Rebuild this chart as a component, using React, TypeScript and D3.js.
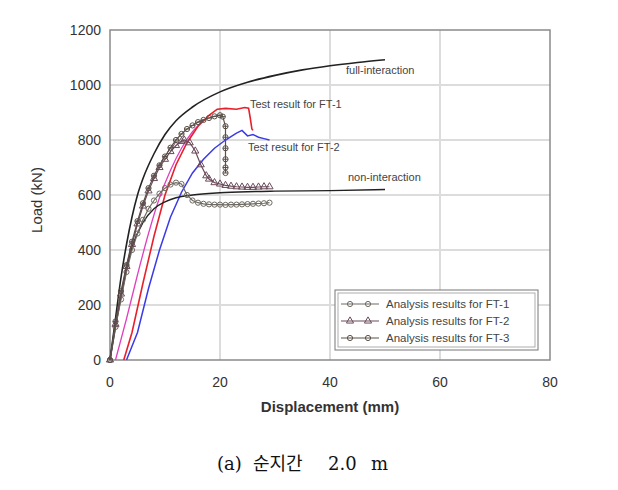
import React, { useEffect, useRef } from 'react';
import * as d3 from 'd3';

// displacement (mm) / load (kN) pairs
const fullDisp = [0, 1, 2, 3, 4, 5, 6, 8, 10, 12, 15, 20, 25, 30, 35, 40, 45, 50];
const fullLoad = [0, 150, 300, 420, 520, 600, 660, 750, 820, 870, 920, 975, 1010, 1035, 1055, 1070, 1082, 1092];

const nonDisp = [0, 2, 4, 6, 8, 10, 12, 15, 20, 25, 30, 40, 50];
const nonLoad = [0, 230, 410, 500, 550, 575, 590, 600, 608, 612, 614, 616, 620];

const ft1TestDisp = [2.5, 4, 6, 8, 10, 12, 14, 16, 18, 19.5, 21, 23, 24.5, 25.2, 25.5, 25.8, 26];
const ft1TestLoad = [0, 100, 280, 450, 600, 710, 790, 850, 890, 912, 915, 912, 918, 916, 880, 840, 835];

const ft2TestDisp = [3, 5, 7, 9, 11, 13, 15, 17, 19, 21, 23, 24, 25, 26, 27, 28, 29];
const ft2TestLoad = [0, 100, 260, 400, 520, 610, 680, 730, 770, 800, 825, 835, 815, 820, 810, 805, 800];

const ft3TestDisp = [1, 3, 5, 7, 9, 11, 13, 15, 17];
const ft3TestLoad = [0, 150, 310, 460, 590, 690, 770, 830, 870];

const an1Disp = [0, 1, 2, 3, 4, 5, 6, 7, 8, 9, 10, 11, 12, 13, 14, 15, 16, 17, 18, 19, 20, 21, 22, 23, 24, 25, 26, 27, 28, 29];
const an1Load = [0, 120, 220, 320, 400, 460, 510, 550, 580, 605, 625, 638, 645, 640, 600, 580, 572, 568, 566, 565, 565, 564, 565, 565, 566, 567, 568, 569, 570, 572];

const an2Disp = [0, 1, 2, 3, 4, 5, 6, 7, 8, 9, 10, 11, 12, 13, 13.5, 14.5, 15.5, 16.5, 17.5, 18, 19, 20, 21, 22, 23, 24, 25, 26, 27, 28, 29];
const an2Load = [0, 130, 240, 340, 420, 495, 560, 615, 660, 700, 730, 758, 780, 795, 800, 790, 760, 710, 670, 658, 645, 640, 635, 632, 630, 629, 628, 628, 629, 630, 630];

const an3Disp = [0, 1, 2, 3, 4, 5, 6, 7, 8, 9, 10, 11, 12, 13, 14, 15, 16, 17, 18, 19, 20, 20.5, 21, 21, 21, 21, 21, 21];
const an3Load = [0, 140, 250, 345, 430, 505, 570, 625, 670, 708, 740, 772, 800, 822, 840, 853, 865, 873, 880, 886, 890, 885, 850, 810, 770, 730, 700, 680];

const xTicks = [0, 20, 40, 60, 80];
const yTicks = [0, 200, 400, 600, 800, 1000, 1200];
const legendLabels = ['Analysis results for FT-1', 'Analysis results for FT-2', 'Analysis results for FT-3'];
const captionWords = ['(a)', '순지간', '2.0', 'm'];

function App() {
  const svgRef = useRef(null);

  useEffect(() => {
    const svg = d3.select(svgRef.current);
    svg.selectAll('*').remove();

    const x = d3.scaleLinear().domain([0, 80]).range([110, 550]);
    const y = d3.scaleLinear().domain([0, 1200]).range([360, 30]);

    // grid
    svg.append('g').selectAll('line.v').data(xTicks.slice(1, -1)).enter().append('line')
      .attr('x1', d => x(d)).attr('x2', d => x(d)).attr('y1', y(0)).attr('y2', y(1200))
      .attr('stroke', '#dcdcdc').attr('stroke-width', 2);
    svg.append('g').selectAll('line.h').data(yTicks.slice(1, -1)).enter().append('line')
      .attr('x1', x(0)).attr('x2', x(80)).attr('y1', d => y(d)).attr('y2', d => y(d))
      .attr('stroke', '#dcdcdc').attr('stroke-width', 2);

    svg.append('rect').attr('x', x(0)).attr('y', y(1200))
      .attr('width', x(80) - x(0)).attr('height', y(0) - y(1200))
      .attr('fill', 'none').attr('stroke', '#8a8a8a').attr('stroke-width', 1.5);

    // tick labels
    svg.append('g').selectAll('text').data(xTicks).enter().append('text')
      .attr('x', d => x(d)).attr('y', 387).attr('text-anchor', 'middle')
      .attr('font-family', 'Liberation Sans, Arial, sans-serif').attr('font-size', 14).attr('fill', '#333')
      .text(d => d);
    svg.append('g').selectAll('text').data(yTicks).enter().append('text')
      .attr('x', 101).attr('y', d => y(d) + 5).attr('text-anchor', 'end')
      .attr('font-family', 'Liberation Sans, Arial, sans-serif').attr('font-size', 14).attr('fill', '#333')
      .text(d => d);

    svg.append('text').attr('transform', 'translate(42,200) rotate(-90)')
      .attr('text-anchor', 'middle').attr('font-family', 'Liberation Sans, Arial, sans-serif')
      .attr('font-size', 15).attr('fill', '#333').text('Load (kN)');
    svg.append('text').attr('x', 330).attr('y', 412).attr('text-anchor', 'middle')
      .attr('font-family', 'Liberation Sans, Arial, sans-serif').attr('font-size', 15)
      .attr('font-weight', 'bold').attr('fill', '#333').text('Displacement (mm)');

    const line = d3.line<[number, number]>().x(d => x(d[0])).y(d => y(d[1])).curve(d3.curveMonotoneX);
    const linear = d3.line<[number, number]>().x(d => x(d[0])).y(d => y(d[1]));
    const zipped = (a: number[], b: number[]) => a.map((v, i) => [v, b[i]] as [number, number]);

    const g = svg.append('g');
    g.append('path').attr('d', line(zipped(ft3TestDisp, ft3TestLoad))).attr('fill', 'none')
      .attr('stroke', '#e040c0').attr('stroke-width', 1.3);
    g.append('path').attr('d', linear(zipped(ft2TestDisp, ft2TestLoad))).attr('fill', 'none')
      .attr('stroke', '#3a3ae8').attr('stroke-width', 1.5);
    g.append('path').attr('d', linear(zipped(ft1TestDisp, ft1TestLoad))).attr('fill', 'none')
      .attr('stroke', '#e8202a').attr('stroke-width', 1.6);
    g.append('path').attr('d', line(zipped(fullDisp, fullLoad))).attr('fill', 'none')
      .attr('stroke', '#222').attr('stroke-width', 1.6);
    g.append('path').attr('d', line(zipped(nonDisp, nonLoad))).attr('fill', 'none')
      .attr('stroke', '#222').attr('stroke-width', 1.4);

    // analysis curves with markers
    const drawAnalysis = (dx: number[], dy: number[], kind: number, color: string) => {
      const pts = zipped(dx, dy);
      g.append('path').attr('d', linear(pts)).attr('fill', 'none')
        .attr('stroke', color).attr('stroke-width', 1.2);
      const m = g.append('g').selectAll('g').data(pts).enter().append('g')
        .attr('transform', d => `translate(${x(d[0])},${y(d[1])})`);
      if (kind === 0) {
        m.append('circle').attr('r', 2.6).attr('fill', 'none').attr('stroke', color).attr('stroke-width', 1);
      } else if (kind === 1) {
        m.append('path').attr('d', d3.symbol(d3.symbolTriangle, 22)()).attr('fill', 'none')
          .attr('stroke', color).attr('stroke-width', 1);
      } else {
        m.append('circle').attr('r', 2.6).attr('fill', 'none').attr('stroke', color).attr('stroke-width', 1);
        m.append('line').attr('x1', -2.6).attr('x2', 2.6).attr('stroke', color).attr('stroke-width', 1);
      }
    };
    drawAnalysis(an1Disp, an1Load, 0, '#6e6a62');
    drawAnalysis(an2Disp, an2Load, 1, '#6a4a5a');
    drawAnalysis(an3Disp, an3Load, 2, '#5a5048');

    // curve labels
    const lab = (tx: number, ty: number, s: string) => svg.append('text').attr('x', tx).attr('y', ty)
      .attr('font-family', 'Liberation Sans Narrow, Liberation Sans, Arial, sans-serif').attr('font-size', 11)
      .attr('fill', '#444').text(s);
    lab(346, 74, 'full-interaction');
    lab(250, 108, 'Test result for FT-1');
    lab(248, 151, 'Test result for FT-2');
    lab(348, 181, 'non-interaction');

    // legend
    const lg = svg.append('g');
    lg.append('rect').attr('x', 335).attr('y', 290).attr('width', 203).attr('height', 60)
      .attr('fill', '#fff').attr('stroke', '#777').attr('stroke-width', 1);
    lg.append('rect').attr('x', 338).attr('y', 293).attr('width', 197).attr('height', 54)
      .attr('fill', 'none').attr('stroke', '#999').attr('stroke-width', 0.8);
    legendLabels.forEach((t, i) => {
      const ly = 304 + i * 17;
      const col = ['#6e6a62', '#6a4a5a', '#5a5048'][i];
      lg.append('line').attr('x1', 341).attr('x2', 379).attr('y1', ly).attr('y2', ly)
        .attr('stroke', col).attr('stroke-width', 1.1);
      [350, 368].forEach(mx => {
        if (i === 1) {
          lg.append('path').attr('transform', `translate(${mx},${ly})`)
            .attr('d', d3.symbol(d3.symbolTriangle, 22)()).attr('fill', 'none').attr('stroke', col);
        } else {
          lg.append('circle').attr('cx', mx).attr('cy', ly).attr('r', 2.6).attr('fill', 'none').attr('stroke', col);
        }
      });
      lg.append('text').attr('x', 386).attr('y', ly + 4)
        .attr('font-family', 'Liberation Sans Narrow, Liberation Sans, Arial, sans-serif').attr('font-size', 11.5)
        .attr('fill', '#444').text(t);
    });

    // caption, words spaced out as in the original
    const capX = [217, 253, 328, 371];
    svg.append('g').selectAll('text').data(captionWords).enter().append('text')
      .attr('x', (d, i) => capX[i]).attr('y', 470)
      .attr('font-family', 'DejaVu Serif, Noto Sans CJK KR, serif').attr('font-size', 18)
      .attr('fill', '#111').text(d => d);
  }, []);

  return (
    <svg ref={svgRef} width={618} height={490} style={{ position: 'absolute', left: 0, top: 0, background: '#fff' }} />
  );
}

export default App;
